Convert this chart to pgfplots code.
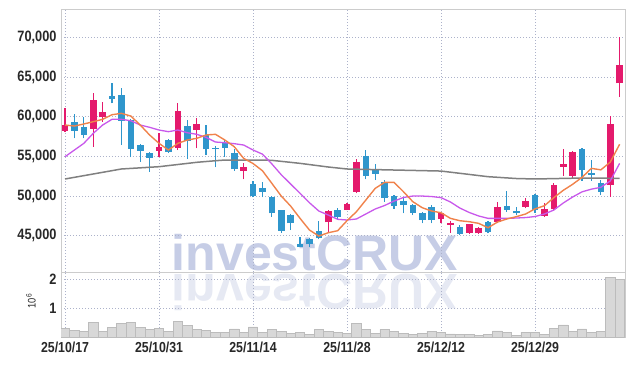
\documentclass[border=0pt]{standalone}
\usepackage{pgfplots}
\pgfplotsset{compat=1.18}
\usepackage{pgfplotstable}
\usepackage{fontspec}
\setmainfont{Liberation Sans}
\newfontfamily\tickfont[FakeStretch=0.85]{Liberation Sans}
\newfontfamily\wmfont{Liberation Sans}

\definecolor{upc}{RGB}{228,26,108}
\definecolor{dnc}{RGB}{47,150,204}
\definecolor{maA}{RGB}{240,130,75}
\definecolor{maB}{RGB}{200,88,235}
\definecolor{maC}{RGB}{128,128,128}
\definecolor{gridc}{RGB}{172,178,202}
\definecolor{framec}{RGB}{204,204,204}
\definecolor{volfill}{RGB}{216,216,216}
\definecolor{voldraw}{RGB}{188,188,188}
\definecolor{wm}{RGB}{198,205,230}
\definecolor{wmr}{RGB}{230,233,243}
\definecolor{tickc}{RGB}{40,40,40}

% up candles: x open high low close
\pgfplotstableread{
x o h l c
0 58230 61050 58100 58950
3 58480 62940 56220 62100
4 59920 61810 59370 60550
10 55710 57900 54880 56220
12 56090 61680 55800 60710
14 58320 59790 56010 59080
19 53190 54120 52110 53620
28 46690 48200 45430 48110
30 48240 49120 48200 48960
31 50550 54670 50340 54290
40 47070 47900 46560 47820
41 46400 46850 45380 46500
43 45380 46500 45220 46440
44 45300 46140 45220 45930
46 46770 49290 46560 48580
49 48660 49710 48450 49370
51 47520 49080 47400 48330
52 48330 51600 48150 51390
53 53700 55930 52560 54040
54 52560 55710 52150 55510
58 51390 60080 49920 59080
59 64200 70080 62520 66510
}\upT

% down candles
\pgfplotstableread{
x o h l c
1 59290 60340 57270 58230
2 58700 60000 57270 57730
5 62600 64280 61680 62260
6 62730 63570 56430 59490
7 59580 59700 54880 55930
8 56430 56600 54330 55710
9 55420 55500 53070 54830
11 57060 57150 55460 55590
13 58820 59580 54670 56930
15 57690 58950 55170 55890
16 56050 56340 53620 55950
17 56640 57060 54960 56090
18 55460 55890 53190 53370
20 51520 51900 49840 50000
21 50970 51810 49840 50550
22 49840 50000 47400 47820
23 48240 48300 45380 45630
24 47610 47700 45720 46560
25 43960 44800 43540 43620
26 44590 44700 43540 43920
27 45590 46850 44550 44670
29 48240 48450 47110 47320
32 55040 55800 52110 52560
33 53410 54000 52020 52810
34 51810 52020 49290 49790
35 50000 50100 48370 48780
36 49410 49750 47820 48870
37 48870 49000 47610 47900
38 47900 48000 46560 46980
39 48660 48870 46560 46980
42 46140 46340 45100 45220
45 46690 46850 45300 45510
47 48740 50630 48030 48240
48 48110 48660 47610 47820
50 50130 50200 47900 48240
55 55930 56000 51930 53280
56 52840 54540 51930 52710
57 51600 52020 50130 50550
}\dnT

\pgfplotstableread{
x a b
0 58950 54960
1 58820 55800
2 59080 56640
3 59370 57900
4 59670 58950
5 60250 59670
6 60420 59670
7 60080 59490
8 58950 58950
9 57690 58660
10 56640 58320
11 55800 58110
12 56640 58320
13 57060 57980
14 57270 57780
15 57690 57400
16 57780 56810
17 57060 56720
18 56220 56600
19 54750 56430
20 54100 55800
21 53190 55280
22 51600 54050
23 50000 52690
24 48740 51520
25 47190 50340
26 45720 49160
27 44960 48110
28 45380 47610
29 45630 47070
30 46900 46980
31 48030 47110
32 49500 47740
33 50970 48370
34 51730 48810
35 51730 49370
36 50550 49820
37 49290 50000
38 48530 50000
39 48110 49940
40 47900 49800
41 47190 49250
42 46890 48490
43 46770 47930
44 46560 47490
45 46010 47190
46 46720 47190
47 47110 47190
48 47400 47230
49 47740 47290
50 48390 47420
51 48780 47740
52 49800 48240
53 50720 49120
54 51480 49880
55 52360 50530
56 53490 50870
57 53300 51100
58 54270 51900
59 56530 54120
}\maT

\pgfplotstableread{
x g
0 52150
3 52780
6 53410
10 53700
14 54250
16 54450
17 54540
21 54540
22 54500
25 54120
28 53660
30 53410
35 53280
40 53150
45 52440
48 52210
50 52150
55 52270
59 52230
}\mgT

\pgfplotstableread{
x v
0 0.30
1 0.23
2 0.19
3 0.49
4 0.19
5 0.33
6 0.46
7 0.49
8 0.33
9 0.26
10 0.30
11 0.19
12 0.53
13 0.40
14 0.26
15 0.24
16 0.15
17 0.15
18 0.28
19 0.15
20 0.35
21 0.15
22 0.26
23 0.20
24 0.12
25 0.15
26 0.09
27 0.26
28 0.20
29 0.15
30 0.12
31 0.47
32 0.26
33 0.12
34 0.26
35 0.18
36 0.12
37 0.09
38 0.12
39 0.20
40 0.16
41 0.11
42 0.09
43 0.09
44 0.05
45 0.09
46 0.21
47 0.15
48 0.05
49 0.17
50 0.17
51 0.09
52 0.31
53 0.42
54 0.20
55 0.28
56 0.15
57 0.20
58 2.06
59 1.98
}\volT

\pgfplotsset{
  common/.style={
    scale only axis, width=564bp,
    xmin=-0.43, xmax=59.57,
    xtick={0,10,...,50},
    grid=major,
    grid style={gridc, dash pattern=on 1bp off 2bp, line width=0.8bp},
    axis line style={framec, line width=0.9bp},
    major tick length=0pt,
    tick style={draw=none},
    scaled ticks=false,
    /pgf/number format/assume math mode=true,
    /pgf/number format/1000 sep={,},
    yticklabel style={font=\tickfont\bfseries\fontsize{15bp}{15bp}\selectfont, text=tickc, xshift=-1bp},
    xticklabel style={font=\tickfont\bfseries\fontsize{14.5bp}{15bp}\selectfont, text=tickc, yshift=-1bp},
  },
  wick/.style={draw=none, mark=none, forget plot,
    error bars/.cd, y dir=plus, y explicit, error mark=none,
    error bar style={draw=#1, line width=1.2bp}},
  body/.style={draw=none, mark=none, forget plot,
    error bars/.cd, y dir=plus, y explicit, error mark=none,
    error bar style={draw=#1, line width=6.6bp}},
}

\begin{document}
\begin{tikzpicture}
\path (-61bp,-29bp) rectangle (573bp,337bp);
% watermark
\node[anchor=base, text=wm, inner sep=0pt] at (254bp,66.5bp) {\wmfont\bfseries\fontsize{50bp}{50bp}\selectfont investCRUX};
\begin{scope}[yscale=-1]
\node[anchor=base, text=wmr, inner sep=0pt, transform shape] at (254bp,-62bp) {\wmfont\bfseries\fontsize{50bp}{50bp}\selectfont investCRUX};
\end{scope}

\begin{axis}[common,
  at={(0,65bp)}, anchor=south west, height=263bp,
  ymin=40430, ymax=73570,
  ytick={45000,50000,...,70000},
  xticklabels={},
]
\addplot[wick=upc] table[x=x, y=l, y error plus expr=\thisrow{h}-\thisrow{l}] {\upT};
\addplot[wick=dnc] table[x=x, y=l, y error plus expr=\thisrow{h}-\thisrow{l}] {\dnT};
\addplot[body=upc] table[x=x, y=o, y error plus expr={max(\thisrow{c}-\thisrow{o},150)}] {\upT};
\addplot[body=dnc] table[x=x, y=c, y error plus expr={max(\thisrow{o}-\thisrow{c},150)}] {\dnT};
\addplot[maC, line width=1.5bp] table[x=x, y=g] {\mgT};
\addplot[maB, line width=1.3bp] table[x=x, y=b] {\maT};
\addplot[maA, line width=1.4bp] table[x=x, y=a] {\maT};
\end{axis}

\begin{axis}[common,
  at={(0,0)}, anchor=south west, height=65bp,
  ymin=0, ymax=2.24,
  ytick={1,2},
  xticklabels={25/10/17,25/10/31,25/11/14,25/11/28,25/12/12,25/12/29},
]
\addplot[ybar, bar width=1, fill=volfill, draw=voldraw, line width=0.6bp] table[x=x, y=v] {\volT};
\end{axis}
\node[rotate=90, text=tickc] at (-30bp,36bp) {\tickfont\fontsize{11bp}{11bp}\selectfont 10\textsuperscript{6}};
\end{tikzpicture}
\end{document}
